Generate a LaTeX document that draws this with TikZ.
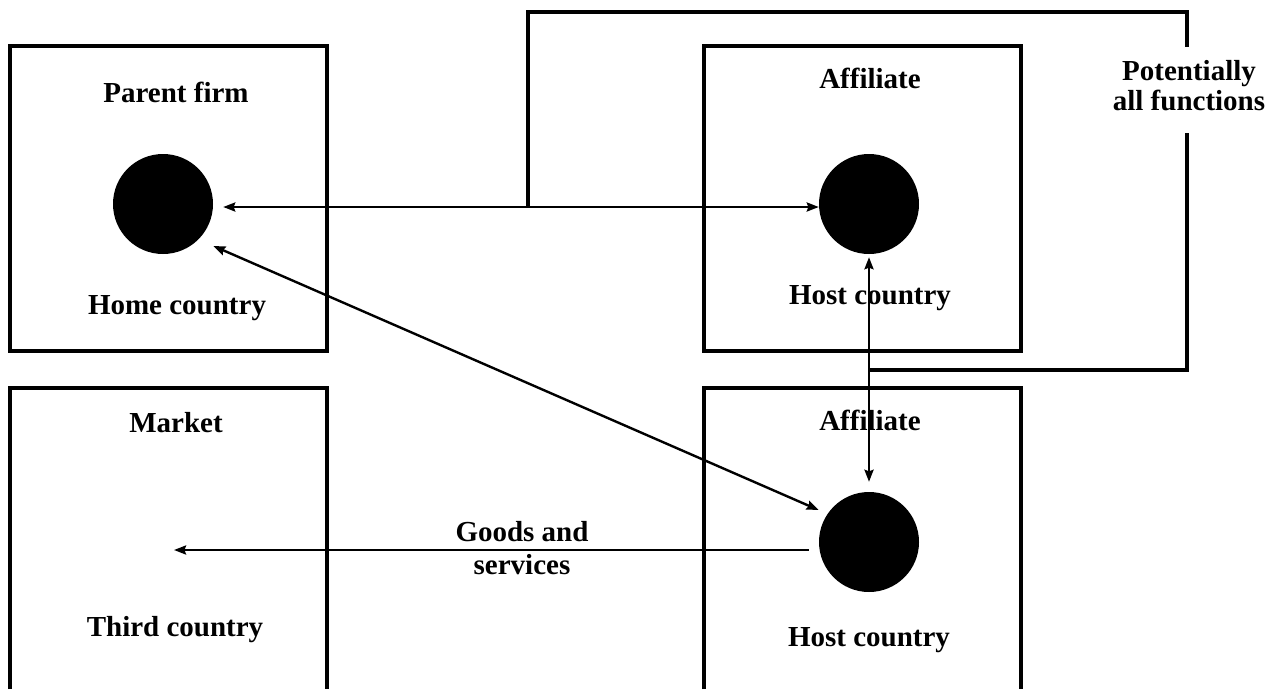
\documentclass[tikz,border=0pt]{standalone}
\usepackage{fontspec}
\setmainfont{Liberation Serif}
\usetikzlibrary{arrows.meta}
\begin{document}
\begin{tikzpicture}[x=1pt,y=-1pt,
  lbl/.style={font=\fontsize{29}{33}\selectfont\bfseries, inner sep=0pt, align=center},
  countrybox/.style={draw, line width=3.2pt, inner sep=0pt, minimum width=317pt, minimum height=305pt},
  frame/.style={line width=3.2pt},
  dot/.style={circle, fill=black, inner sep=0pt, minimum size=100pt},
  tip/.tip={Stealth[length=12pt,width=9pt,inset=1.5pt]},
  link/.style={line width=2.4pt, tip-tip},
  flow/.style={line width=2.4pt, -tip},
  bracket/.style={line width=4.5pt, line join=miter}]
\useasboundingbox (0,0) rectangle (1274,689);

% country boxes
\node[countrybox] (homebox) at (168.5,198.5) {};
\node[countrybox] (hostbox) at (862.5,198.5) {};
\draw[frame] (10,689) |- (327,388) -- (327,689);
\draw[frame] (704,689) |- (1021,388) -- (1021,689);

% box labels
\node[lbl] (parentlbl) at (176,92) {Parent firm};
\node[lbl] (homelbl)   at (177,308) {Home country};
\node[lbl] (aff1lbl)   at (870,78) {Affiliate};
\node[lbl] (host1lbl)  at (870,298) {Host country};
\node[lbl] (marketlbl) at (176,423) {Market};
\node[lbl] (thirdlbl)  at (175,630) {Third country};
\node[lbl] (aff2lbl)   at (870,420) {Affiliate};
\node[lbl] (host2lbl)  at (869,640) {Host country};

% firms
\node[dot] (parent) at (163,204) {};
\node[dot] (aff1)   at (869,204) {};
\node[dot] (aff2)   at (869,542) {};
\coordinate (mkt) at (174,550);

% "potentially all functions" bracket
\node[lbl, font=\fontsize{29}{30}\selectfont\bfseries] (pot) at (1189,86) {Potentially\\all functions};
\coordinate (jA) at (528,207);
\coordinate (jB) at (868,370);
\draw[bracket] (jA) |- (1187,12) -- (1187,47);
\draw[bracket] (1187,133) |- (jB);

% flows between units
\draw[link, shorten <=10pt] ([shift={(0,3)}]parent.east) -- ([shift={(0,3)}]aff1.west);
\draw[link, shorten <=3pt, shorten >=10pt] (aff1.south) -- (aff2.north);
\draw[link, shorten <=55pt, shorten >=55pt] ([shift={(0,20)}]parent.center) -- ([shift={(0,-10)}]aff2.center);
\draw[flow] ([shift={(-10,8)}]aff2.west) -- (mkt);
\node[lbl] (goods) at (522,548) {Goods and\\[0pt]services};
\end{tikzpicture}
\end{document}
